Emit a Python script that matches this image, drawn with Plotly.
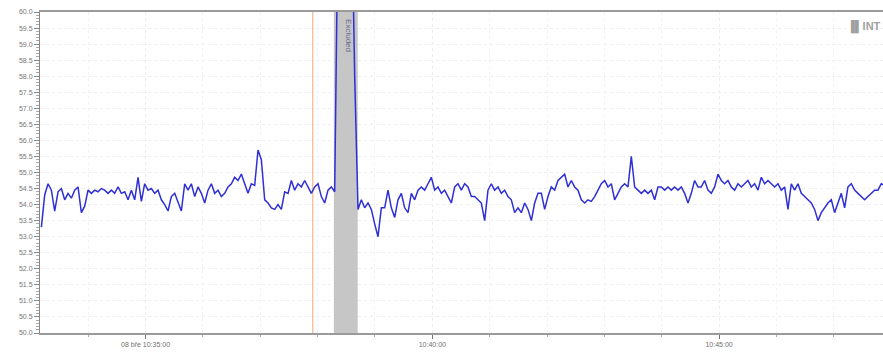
import pandas as pd
import plotly.graph_objects as go

# ---- data ----
start_time = "2021-03-08 10:33:11.04"
step_seconds = 3.4868
freq_values = [
    # segment 1
    53.3, 54.3, 54.65, 54.45, 53.8, 54.4, 54.5, 54.15, 54.35, 54.2,
    54.45, 54.55, 53.75, 53.95, 54.45, 54.35, 54.45, 54.4, 54.5, 54.45,
    54.35, 54.45, 54.35, 54.55, 54.35, 54.4, 54.15, 54.45, 54.15, 54.85,
    54.1, 54.65, 54.45, 54.5, 54.35, 54.45, 54.15, 54.0, 53.8, 54.25,
    54.35, 54.05, 53.8, 54.65, 54.45, 54.65, 54.25, 54.55, 54.35, 54.05,
    54.45, 54.65, 54.35, 54.45, 54.25, 54.35, 54.55, 54.65, 54.85, 54.75,
    54.95, 54.65, 54.35, 54.65, 54.6, 55.7, 55.4,
    # segment 2
    54.15, 54.05, 53.9, 53.85, 54.0, 53.85, 54.4, 54.35, 54.75, 54.45,
    54.65, 54.55, 54.75, 54.55, 54.35, 54.55, 54.65, 54.25, 54.05, 54.45,
    54.55, 54.4, 63.0, 64.0, 64.0, 64.0, 64.0, 58.0, 53.85, 54.15,
    53.9, 54.05, 53.85, 53.4, 53.0, 53.9, 53.9, 54.45, 53.9, 53.6,
    54.15, 54.35, 53.9, 53.75, 54.35, 54.15, 54.45, 54.55, 54.45, 54.65,
    54.85, 54.45, 54.55, 54.35, 54.45, 54.25, 54.05, 54.55, 54.65, 54.45,
    54.65, 54.55, 54.25, 54.25, 54.15,
    # segment 3
    54.05, 53.5, 54.45, 54.65, 54.45, 54.55, 54.35, 54.45, 54.25, 54.15,
    53.75, 53.9, 53.75, 54.05, 53.85, 53.5, 54.05, 54.35, 54.35, 53.85,
    54.25, 54.55, 54.45, 54.75, 54.85, 54.95, 54.55, 54.75, 54.55, 54.45,
    54.15, 54.05, 54.15, 54.1, 54.25, 54.45, 54.65, 54.75, 54.55, 54.65,
    54.15, 54.35, 54.55, 54.65, 54.55, 55.5, 54.55, 54.45, 54.35, 54.45,
    54.35, 54.45, 54.15, 54.55, 54.55, 54.45, 54.55, 54.45, 54.55, 54.45,
    54.55, 54.35, 54.05, 54.35, 54.75,
    # segment 4
    54.55, 54.55, 54.75, 54.45, 54.35, 54.55, 54.95, 54.75, 54.65, 54.75,
    54.55, 54.45, 54.65, 54.55, 54.65, 54.75, 54.55, 54.65, 54.45, 54.85,
    54.65, 54.75, 54.65, 54.55, 54.65, 54.45, 54.55, 53.85, 54.65, 54.45,
    54.65, 54.35, 54.25, 54.15, 54.05, 53.85, 53.5, 53.75, 53.9, 54.05,
    54.15, 53.75, 54.05, 54.35, 53.9, 54.55, 54.65, 54.45, 54.35, 54.25,
    54.15, 54.25, 54.35, 54.45, 54.45, 54.65, 54.6,
]
x_range = ["2021-03-08 10:33:09.6", "2021-03-08 10:47:51.5"]
y_range = [50.0, 60.0]
x_tick_vals = ["2021-03-08 10:35:00", "2021-03-08 10:40:00", "2021-03-08 10:45:00"]
x_tick_text = ["08 bře 10:35:00", "10:40:00", "10:45:00"]
marker_time = "2021-03-08 10:37:55"
band_start = "2021-03-08 10:38:17"
band_end = "2021-03-08 10:38:42"
band_label = "Excluded"
logo_text = "\u2590\u258cINT"

times = pd.date_range(start=start_time, periods=len(freq_values),
                      freq=pd.Timedelta(seconds=step_seconds))

fig = go.Figure()
# grey excluded band (as a filled trace so it sits above the gridlines)
fig.add_trace(go.Scatter(
    x=[band_start, band_start, band_end, band_end, band_start],
    y=[y_range[0], y_range[1], y_range[1], y_range[0], y_range[0]],
    mode="lines", fill="toself", fillcolor="#c6c6c6",
    line=dict(width=0, color="#c6c6c6"),
    hoverinfo="skip", showlegend=False,
))
# orange marker line
fig.add_trace(go.Scatter(
    x=[marker_time, marker_time], y=y_range, mode="lines",
    line=dict(color="#f0a878", width=1),
    hoverinfo="skip", showlegend=False,
))
fig.add_trace(go.Scatter(
    x=times, y=freq_values, mode="lines",
    line=dict(color="#2f2fd6", width=1.5),
    hoverinfo="skip", showlegend=False,
))

fig.add_annotation(x=band_end, xref="x", y=0.985, yref="paper",
                   text=band_label, textangle=90, showarrow=False,
                   xanchor="right", yanchor="top", xshift=-3,
                   font=dict(size=8, color="#6a6a90", family="Liberation Sans"))
fig.add_annotation(x=1.0, xref="paper", y=0.985, yref="paper",
                   text="<b>" + logo_text + "</b>", showarrow=False,
                   xanchor="right", yanchor="top",
                   font=dict(size=11, color="#a0a0a0", family="Liberation Sans"))

fig.update_layout(
    width=883, height=354,
    margin=dict(l=40, r=0, t=12, b=21),
    paper_bgcolor="white", plot_bgcolor="white",
    font=dict(family="Liberation Sans", size=7, color="#777777"),
)
fig.update_xaxes(
    range=x_range, tickmode="array", tickvals=x_tick_vals, ticktext=x_tick_text,
    ticks="outside", ticklen=4, tickcolor="#777777",
    showline=True, linecolor="#9a9a9a", linewidth=2, mirror=True,
    showgrid=True, gridcolor="#ececec", griddash="dot", gridwidth=1,
    minor=dict(dtick=60000, ticks="outside", ticklen=2, tickcolor="#aaaaaa",
               showgrid=True, gridcolor="#f2f2f2", griddash="dot"),
    tickfont=dict(size=7, color="#707070"),
    zeroline=False,
)
fig.update_yaxes(
    range=y_range, dtick=0.5, tick0=50, tickformat=".1f",
    ticks="outside", ticklen=5, tickcolor="#888888",
    showline=True, linecolor="#888888", linewidth=1,
    showgrid=True, gridcolor="#efefef", griddash="dot", gridwidth=1,
    minor=dict(dtick=0.1, ticks="outside", ticklen=3, tickcolor="#aaaaaa",
               showgrid=False),
    tickfont=dict(size=7, color="#777777"),
    zeroline=False,
)

fig.write_html("out.html")
